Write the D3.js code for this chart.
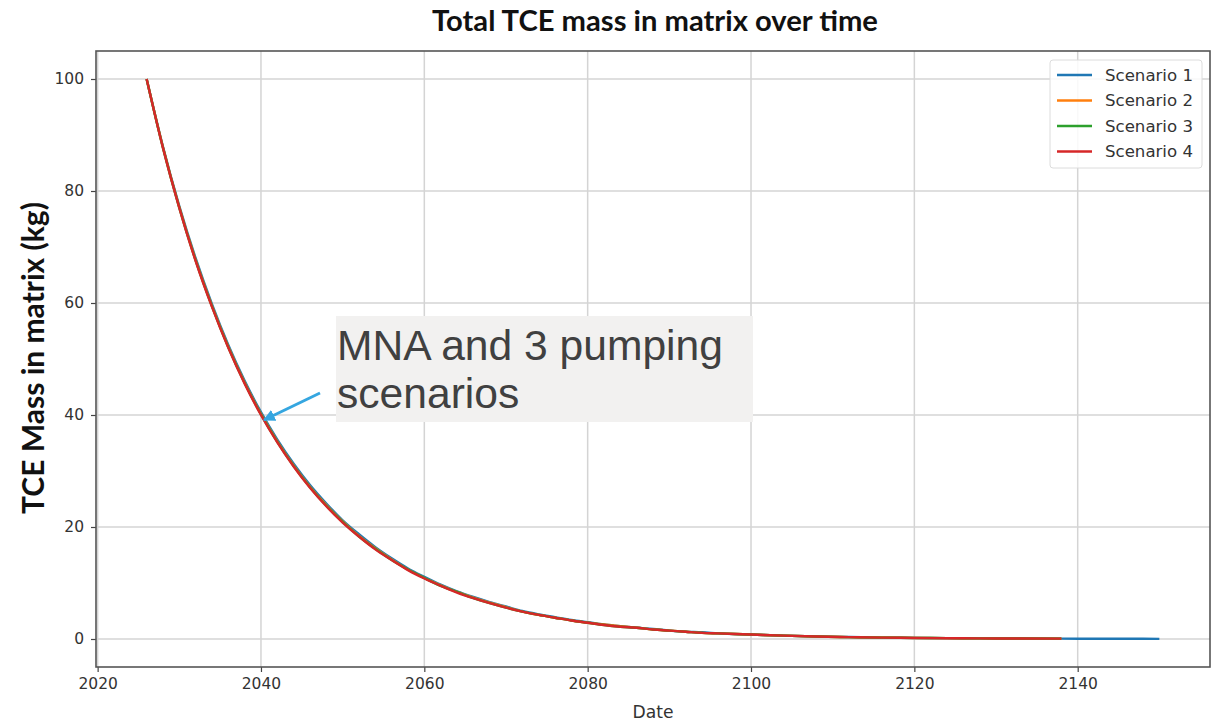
<!DOCTYPE html>
<html>
<head>
<meta charset="utf-8">
<script src="https://cdn.jsdelivr.net/npm/d3@7"></script>
<style>
  html, body { margin: 0; padding: 0; background: #fff; }
  svg { display: block; }
</style>
</head>
<body>
<svg id="chart" width="1213" height="721"></svg>
<script>
// Simulation years (scenario 1 runs to 2150, the others stop at 2138)
const yearsLong = [2026, 2028, 2030, 2032, 2034, 2036, 2038, 2040, 2042, 2044, 2046, 2048, 2050,
  2052, 2054, 2056, 2058, 2060, 2062, 2064, 2066, 2068, 2070, 2072, 2074, 2076, 2078, 2080,
  2082, 2084, 2086, 2088, 2090, 2092, 2094, 2096, 2100, 2104, 2108, 2112, 2116, 2120, 2124,
  2128, 2132, 2138, 2142, 2146, 2150];

// TCE mass in matrix (kg)
const scenario1 = [100, 87.9, 77.3, 68.0, 59.8, 52.5, 46.1, 40.5, 35.6, 31.3, 27.5, 24.2, 21.2,
  18.7, 16.4, 14.4, 12.6, 11.1, 9.7, 8.5, 7.5, 6.6, 5.8, 5.0, 4.4, 3.9, 3.4, 3.0,
  2.6, 2.3, 2.0, 1.8, 1.5, 1.3, 1.2, 1.0, 0.8, 0.6, 0.45, 0.35, 0.27, 0.2, 0.16,
  0.12, 0.09, 0.06, 0.05, 0.04, 0.03];
const scenario2 = [100, 87.8, 77.1, 67.7, 59.5, 52.2, 45.8, 40.2, 35.3, 31.0, 27.2, 23.9, 21.0,
  18.4, 16.2, 14.2, 12.4, 10.9, 9.6, 8.4, 7.4, 6.5, 5.7, 4.9, 4.3, 3.8, 3.3, 2.9,
  2.6, 2.3, 2.0, 1.7, 1.5, 1.3, 1.1, 1.0, 0.8, 0.6, 0.45, 0.34, 0.26, 0.2, 0.15,
  0.11, 0.08, 0.06];
const scenario3 = [100, 87.7, 77.0, 67.6, 59.4, 52.1, 45.7, 40.1, 35.2, 30.9, 27.1, 23.8, 20.9,
  18.3, 16.1, 14.1, 12.4, 10.9, 9.5, 8.4, 7.3, 6.4, 5.6, 4.9, 4.3, 3.8, 3.3, 2.9,
  2.5, 2.2, 2.0, 1.7, 1.5, 1.3, 1.1, 1.0, 0.8, 0.6, 0.44, 0.33, 0.25, 0.19, 0.15,
  0.11, 0.08, 0.06];
const scenario4 = [100, 87.7, 77.0, 67.5, 59.3, 52.0, 45.6, 40.0, 35.1, 30.8, 27.0, 23.7, 20.8,
  18.3, 16.0, 14.1, 12.3, 10.8, 9.5, 8.3, 7.3, 6.4, 5.6, 4.9, 4.3, 3.8, 3.3, 2.9,
  2.5, 2.2, 2.0, 1.7, 1.5, 1.3, 1.1, 1.0, 0.8, 0.6, 0.44, 0.33, 0.25, 0.19, 0.14,
  0.11, 0.08, 0.06];

const seriesNames = ["Scenario 1", "Scenario 2", "Scenario 3", "Scenario 4"];
const seriesValues = [scenario1, scenario2, scenario3, scenario4];
const seriesColors = ["#1f77b4", "#ff7f0e", "#2ca02c", "#d62728"];

const xTicks = [2020, 2040, 2060, 2080, 2100, 2120, 2140];
const yTicks = [0, 20, 40, 60, 80, 100];

const chartTitle = "Total TCE mass in matrix over time";
const xTitle = "Date";
const yTitle = "TCE Mass in matrix (kg)";
const noteLines = ["MNA and 3 pumping", "scenarios"];

const svg = d3.select("#chart");
const plot = { left: 96, right: 1210, top: 51, bottom: 667 };

const x = d3.scaleLinear().domain([2019.8, 2156.2]).range([plot.left, plot.right]);
const y = d3.scaleLinear().domain([-5, 105]).range([plot.bottom, plot.top]);

const tickFont = "'DejaVu Sans', sans-serif";
const labelFont = "Lato, 'Open Sans', sans-serif";

// Shrink or grow a text element's font so it spans the given width
function fitWidth(sel, width) {
  const node = sel.node();
  const size = parseFloat(sel.style("font-size"));
  const w = node.getComputedTextLength();
  if (w > 0) sel.style("font-size", (size * width / w).toFixed(2) + "px");
  return sel;
}

// Grid
const grid = svg.append("g");
grid.selectAll(".gx").data(xTicks).join("line")
  .attr("x1", d => x(d)).attr("x2", d => x(d))
  .attr("y1", plot.top).attr("y2", plot.bottom)
  .attr("stroke", "#d4d4d4").attr("stroke-width", 1.5);
grid.selectAll(".gy").data(yTicks).join("line")
  .attr("x1", plot.left).attr("x2", plot.right)
  .attr("y1", d => y(d)).attr("y2", d => y(d))
  .attr("stroke", "#d4d4d4").attr("stroke-width", 1.5);

// Axes
const xAxis = svg.append("g")
  .attr("transform", `translate(0,${plot.bottom})`)
  .call(d3.axisBottom(x).tickValues(xTicks).tickFormat(d3.format("d")).tickSize(5).tickPadding(6));
const yAxis = svg.append("g")
  .attr("transform", `translate(${plot.left},0)`)
  .call(d3.axisLeft(y).tickValues(yTicks).tickSize(5).tickPadding(7));
[xAxis, yAxis].forEach(g => {
  g.select(".domain").remove();
  g.selectAll(".tick line").attr("stroke", "#444").attr("stroke-width", 1.2);
  g.selectAll(".tick text").attr("fill", "#333").style("font-family", tickFont).style("font-size", "15.5px");
});

// Series lines
const line = d3.line().x(d => x(d[0])).y(d => y(d[1])).curve(d3.curveMonotoneX);
const linesG = svg.append("g");
seriesValues.forEach((vals, i) => {
  const pts = vals.map((v, j) => [yearsLong[j], v]);
  linesG.append("path")
    .attr("d", line(pts))
    .attr("fill", "none")
    .attr("stroke", seriesColors[i])
    .attr("stroke-width", 2.4)
    .attr("stroke-linejoin", "round");
});

// Frame
svg.append("rect")
  .attr("x", plot.left).attr("y", plot.top)
  .attr("width", plot.right - plot.left).attr("height", plot.bottom - plot.top)
  .attr("fill", "none").attr("stroke", "#555").attr("stroke-width", 1.6);

// Legend
const legend = svg.append("g").attr("transform", "translate(1050,60)");
legend.append("rect")
  .attr("width", 152).attr("height", 108).attr("rx", 3)
  .attr("fill", "#fff").attr("fill-opacity", 0.85)
  .attr("stroke", "#dcdcdc").attr("stroke-width", 1);
seriesNames.forEach((name, i) => {
  const yy = 15 + i * 25.5;
  legend.append("line")
    .attr("x1", 7).attr("x2", 42).attr("y1", yy).attr("y2", yy)
    .attr("stroke", seriesColors[i]).attr("stroke-width", 2.4);
  const t = legend.append("text")
    .attr("x", 55).attr("y", yy + 5.5)
    .attr("fill", "#333").style("font-family", tickFont).style("font-size", "15px")
    .text(name);
  fitWidth(t, 88);
});

// Titles
const title = svg.append("text")
  .attr("x", 655).attr("y", 31).attr("text-anchor", "middle")
  .attr("fill", "#111").style("font-family", labelFont)
  .style("font-weight", "bold").style("font-size", "24px")
  .text(chartTitle);
fitWidth(title, 446);

const xt = svg.append("text")
  .attr("x", 653).attr("y", 718).attr("text-anchor", "middle")
  .attr("fill", "#333").style("font-family", tickFont).style("font-size", "16px")
  .text(xTitle);
fitWidth(xt, 41);

const yt = svg.append("text")
  .attr("transform", "translate(44,358) rotate(-90)").attr("text-anchor", "middle")
  .attr("fill", "#111").style("font-family", labelFont)
  .style("font-weight", "bold").style("font-size", "24px")
  .text(yTitle);
fitWidth(yt, 312);

// Annotation box with arrow
svg.append("defs").append("marker")
  .attr("id", "arrowhead").attr("viewBox", "0 0 10 10")
  .attr("refX", 9).attr("refY", 5)
  .attr("markerWidth", 4).attr("markerHeight", 4)
  .attr("orient", "auto")
  .append("path").attr("d", "M0,0 L10,5 L0,10 Z").attr("fill", "#35a6e0");

svg.append("line")
  .attr("x1", 320).attr("y1", 393)
  .attr("x2", 264).attr("y2", 420)
  .attr("stroke", "#35a6e0").attr("stroke-width", 3)
  .attr("marker-end", "url(#arrowhead)");

svg.append("rect")
  .attr("x", 336).attr("y", 316).attr("width", 417).attr("height", 106)
  .attr("fill", "#f2f1f0");
noteLines.forEach((t, i) => {
  svg.append("text")
    .attr("x", 337).attr("y", 360 + i * 48)
    .attr("fill", "#404040").style("font-family", "'Liberation Sans', Arial, sans-serif")
    .style("font-size", "42.6px")
    .text(t);
});
</script>
</body>
</html>
